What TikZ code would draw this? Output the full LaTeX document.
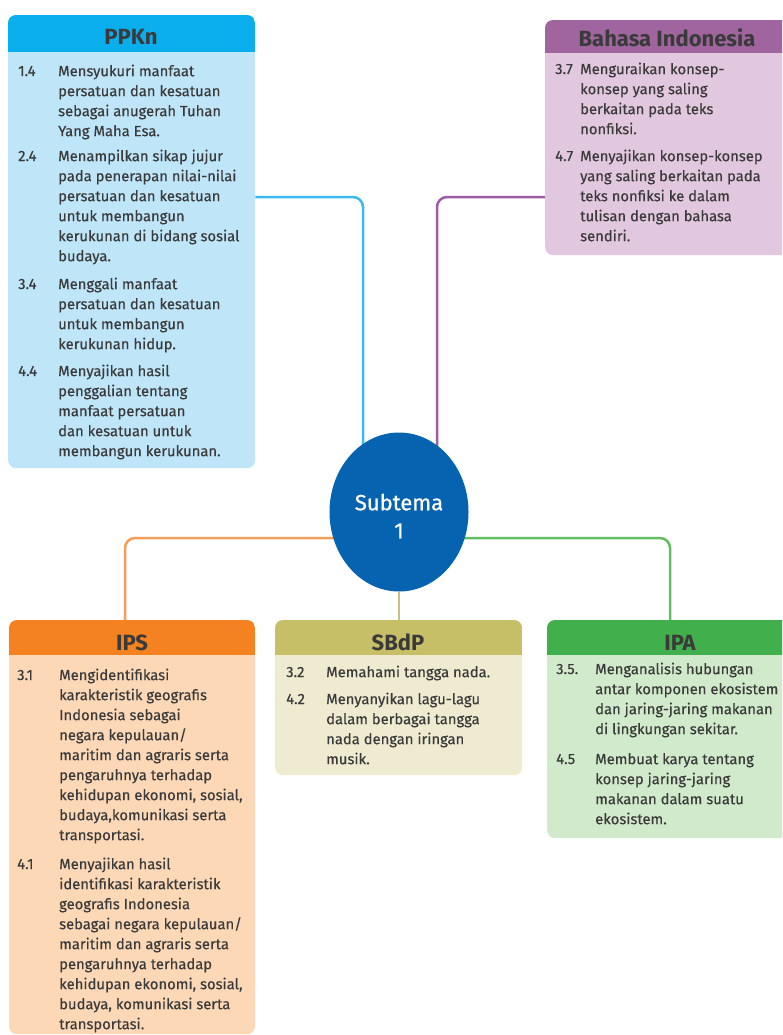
\documentclass[tikz,border=0pt]{standalone}
\usepackage{fontspec}
\setmainfont{Fira Sans}
\newfontfamily\bodyfont{Fira Sans}[FakeBold=0.35]
\newfontfamily\circfont{Fira Sans}[FakeBold=0.8]
\usetikzlibrary{shapes.geometric}
\pgfdeclarelayer{back}
\pgfdeclarelayer{bg}
\pgfsetlayers{back,bg,main}
\definecolor{txt}{HTML}{3A3A3A}
\definecolor{ppkH}{HTML}{0BAEEC}
\definecolor{ppkB}{HTML}{BEE5F8}
\definecolor{ppkL}{HTML}{3CB9EE}
\definecolor{bhsH}{HTML}{A0659E}
\definecolor{bhsB}{HTML}{E2C8DF}
\definecolor{bhsL}{HTML}{9E5BA3}
\definecolor{ipsH}{HTML}{F48221}
\definecolor{ipsB}{HTML}{FDD8B7}
\definecolor{ipsL}{HTML}{F69E58}
\definecolor{sbdH}{HTML}{C6BF68}
\definecolor{sbdB}{HTML}{EEEBD1}
\definecolor{sbdL}{HTML}{C7C27F}
\definecolor{ipaH}{HTML}{41AF4B}
\definecolor{ipaB}{HTML}{D2EACC}
\definecolor{ipaL}{HTML}{62BF63}
\definecolor{circC}{HTML}{0563AF}
\begin{document}
\begin{tikzpicture}[x=1pt,y=-1pt,
  box/.style={rectangle, rounded corners=8pt, inner sep=0pt, anchor=north west},
  title/.style={anchor=base, inner sep=0pt, text=txt, font=\fontsize{22}{24}\selectfont\bfseries},
  num/.style={anchor=base west, inner sep=0pt, text=txt, font=\bodyfont\fontsize{14.8}{20}\selectfont},
  item/.style={anchor=north west, inner sep=0pt, text=txt, align=left, font=\bodyfont\fontsize{14.8}{20}\selectfont},
  conn/.style={line width=2.5pt, rounded corners=10pt}
]
\clip (0,0) rectangle (782,1035);
\begin{pgfonlayer}{back}
\fill[white] (0,0) rectangle (782,1035);
\end{pgfonlayer}

% ---------- PPKn ----------
\node[box, fill=ppkB, minimum width=247pt, minimum height=453pt] (ppkn) at (8,15) {};
\begin{scope}
  \clip[rounded corners=8pt] (8,15) rectangle (255,468);
  \fill[ppkH] (8,15) rectangle (255,52);
\end{scope}
\node[title] (ppknT) at (131,45) {PPKn};
\node[num] (p1n) at (18,76) {1.4};
\node[item] (p1t) at (58,62) {\strut Mensyukuri manfaat\\persatuan dan kesatuan\\sebagai anugerah Tuhan\\Yang Maha Esa.};
\node[num] (p2n) at (18,161) {2.4};
\node[item] (p2t) at (58,147) {\strut Menampilkan sikap jujur\\pada penerapan nilai-nilai\\persatuan dan kesatuan\\untuk membangun\\kerukunan di bidang sosial\\budaya.};
\node[num] (p3n) at (18,289) {3.4};
\node[item] (p3t) at (58,275) {\strut Menggali manfaat\\persatuan dan kesatuan\\untuk membangun\\kerukunan hidup.};
\node[num] (p4n) at (18,376) {4.4};
\node[item] (p4t) at (58,362) {\strut Menyajikan hasil\\penggalian tentang\\manfaat persatuan\\dan kesatuan untuk\\membangun kerukunan.};

% ---------- Bahasa Indonesia ----------
\node[box, fill=bhsB, minimum width=250pt, minimum height=235pt] (bhs) at (545,20) {};
\begin{scope}
  \clip[rounded corners=8pt] (545,20) rectangle (795,255);
  \fill[bhsH] (545,20) rectangle (795,53);
\end{scope}
\node[title] (bhsT) at (667,47) {Bahasa Indonesia};
\node[num] (b1n) at (555,74) {3.7};
\node[item] (b1t) at (580,60) {\strut Menguraikan konsep-\\konsep yang saling\\berkaitan pada teks\\nonfiksi.};
\node[num] (b2n) at (555,161) {4.7};
\node[item] (b2t) at (580,147) {\strut Menyajikan konsep-konsep\\yang saling berkaitan pada\\teks nonfiksi ke dalam\\tulisan dengan bahasa\\sendiri.};

% ---------- IPS ----------
\node[box, fill=ipsB, minimum width=246pt, minimum height=414pt] (ips) at (9,620) {};
\begin{scope}
  \clip[rounded corners=8pt] (9,620) rectangle (255,1034);
  \fill[ipsH] (9,620) rectangle (255,655);
\end{scope}
\node[title] (ipsT) at (132,650) {IPS};
\node[num] (i1n) at (17,680) {3.1};
\node[item] (i1t) at (59,666) {\strut Mengidentifikasi\\karakteristik geografis\\Indonesia sebagai\\negara kepulauan/\\maritim dan agraris serta\\pengaruhnya terhadap\\kehidupan ekonomi, sosial,\\budaya,komunikasi serta\\transportasi.};
\node[num] (i2n) at (17,869) {4.1};
\node[item] (i2t) at (59,855) {\strut Menyajikan hasil\\identifikasi karakteristik\\geografis Indonesia\\sebagai negara kepulauan/\\maritim dan agraris serta\\pengaruhnya terhadap\\kehidupan ekonomi, sosial,\\budaya, komunikasi serta\\transportasi.};

% ---------- SBdP ----------
\node[box, fill=sbdB, minimum width=247pt, minimum height=155pt] (sbdp) at (275,620) {};
\begin{scope}
  \clip[rounded corners=8pt] (275,620) rectangle (522,775);
  \fill[sbdH] (275,620) rectangle (522,655);
\end{scope}
\node[title] (sbdpT) at (398,650) {SBdP};
\node[num] (s1n) at (286,677) {3.2};
\node[item] (s1t) at (326,663) {\strut Memahami tangga nada.};
\node[num] (s2n) at (286,704) {4.2};
\node[item] (s2t) at (326,690) {\strut Menyanyikan lagu-lagu\\dalam berbagai tangga\\nada dengan iringan\\musik.};

% ---------- IPA ----------
\node[box, fill=ipaB, minimum width=248pt, minimum height=218pt] (ipa) at (547,620) {};
\begin{scope}
  \clip[rounded corners=8pt] (547,620) rectangle (795,838);
  \fill[ipaH] (547,620) rectangle (795,655);
\end{scope}
\node[title] (ipaT) at (680,650) {IPA};
\node[num] (a1n) at (556,674) {3.5.};
\node[item] (a1t) at (595,660) {\strut Menganalisis hubungan\\antar komponen ekosistem\\dan jaring-jaring makanan\\di lingkungan sekitar.};
\node[num] (a2n) at (556,764) {4.5};
\node[item] (a2t) at (595,750) {\strut Membuat karya tentang\\konsep jaring-jaring\\makanan dalam suatu\\ekosistem.};

% ---------- centre ----------
\node[ellipse, fill=circC, inner sep=0pt, minimum width=139pt, minimum height=159pt] (circ) at (399,512) {};
\node[text=white, align=center, inner sep=0pt, font=\circfont\fontsize{22}{28}\selectfont] (circT) at (399,516) {Subtema\\1};

% ---------- connectors ----------
\begin{pgfonlayer}{bg}
\draw[conn, ppkL] (ppkn.east |- 0,197) -| ([xshift=-36pt]circ.center);
\draw[conn, bhsL] (bhs.west |- 0,197) -| ([xshift=38pt]circ.center);
\draw[conn, ipsL] ([yshift=-26pt]circ.center) -| (ips.north -| 125,0);
\draw[conn, ipaL] ([yshift=-26pt]circ.center) -| (ipa.north -| 670,0);
\draw[conn, sbdL] (circ.south) -- (circ.south |- sbdp.north);
\end{pgfonlayer}
\end{tikzpicture}
\end{document}
